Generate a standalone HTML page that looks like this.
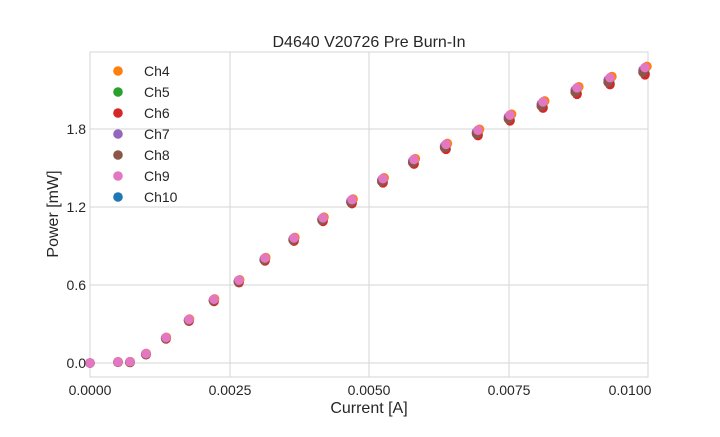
<!DOCTYPE html>
<html><head><meta charset="utf-8"><style>
body{margin:0;background:#fff;}
svg text{font-family:"Liberation Sans",Arial,sans-serif;fill:#262626;}
</style></head><body>
<svg id="s" width="720" height="432" xmlns="http://www.w3.org/2000/svg">
<rect width="720" height="432" fill="#fff"/>
<g stroke="#d5d5d5" stroke-width="1">
<line x1="90" y1="52" x2="90" y2="377"/><line x1="230" y1="52" x2="230" y2="377"/>
<line x1="369" y1="52" x2="369" y2="377"/><line x1="509" y1="52" x2="509" y2="377"/>
<line x1="648" y1="52" x2="648" y2="377"/>
<line x1="90" y1="363" x2="648" y2="363"/><line x1="90" y1="285" x2="648" y2="285"/>
<line x1="90" y1="207" x2="648" y2="207"/><line x1="90" y1="129" x2="648" y2="129"/>
</g>
<rect x="90" y="52" width="558" height="325" fill="none" stroke="#d5d5d5"/>
<g id="pts"></g>
<text x="369" y="47" font-size="16" text-anchor="middle">D4640 V20726 Pre Burn-In</text>
<g font-size="14" text-anchor="middle">
<text x="90" y="395">0.0000</text><text x="230" y="395">0.0025</text><text x="369" y="395">0.0050</text><text x="509" y="395">0.0075</text><text x="630" y="395">0.0100</text>
</g>
<g font-size="14" text-anchor="end">
<text x="86" y="368">0.0</text><text x="86" y="290">0.6</text><text x="86" y="212">1.2</text><text x="86" y="134">1.8</text>
</g>
<text x="369" y="413" font-size="16" text-anchor="middle">Current [A]</text>
<text x="58" y="214" font-size="16" text-anchor="middle" transform="rotate(-90 58 214)">Power [mW]</text>
<g id="leg" font-size="14"></g>
</svg>
<script>
var cols=["#ff7f0e","#2ca02c","#d62728","#9467bd","#8c564b","#e377c2","#1f77b4"];
var names=["Ch4","Ch5","Ch6","Ch7","Ch8","Ch9","Ch10"];
var xs=[90,118,130,146,166,189,214,239,265,294,323,352,383,414,446,478,510,543,577,610,645];
var ys=[363,362,362,354,338,320,300,281,259,239,219,201,180,161,146,132,117,104,90,80,70];
var off=[[1,-3],[0,3],[0,4],[-1,0],[-1,2],[0,-2],[0,-1]];
var order=[6,0,1,2,3,4,5];
var g=document.getElementById('pts'),h='';
for(var k=0;k<7;k++){var c=order[k];for(var i=0;i<xs.length;i++){
 var f=i/20; h+='<circle cx="'+(xs[i]+off[c][0]*f*2)+'" cy="'+(ys[i]+off[c][1]*f*1.2)+'" r="4.8" fill="'+cols[c]+'"/>';}}
g.innerHTML=h;
var l='';for(var c=0;c<7;c++){var y=71+c*21;l+='<circle cx="118" cy="'+y+'" r="4.8" fill="'+cols[c]+'"/><text x="144" y="'+(y+5)+'">'+names[c]+'</text>';}
document.getElementById('leg').innerHTML=l;
</script>
</body></html>
